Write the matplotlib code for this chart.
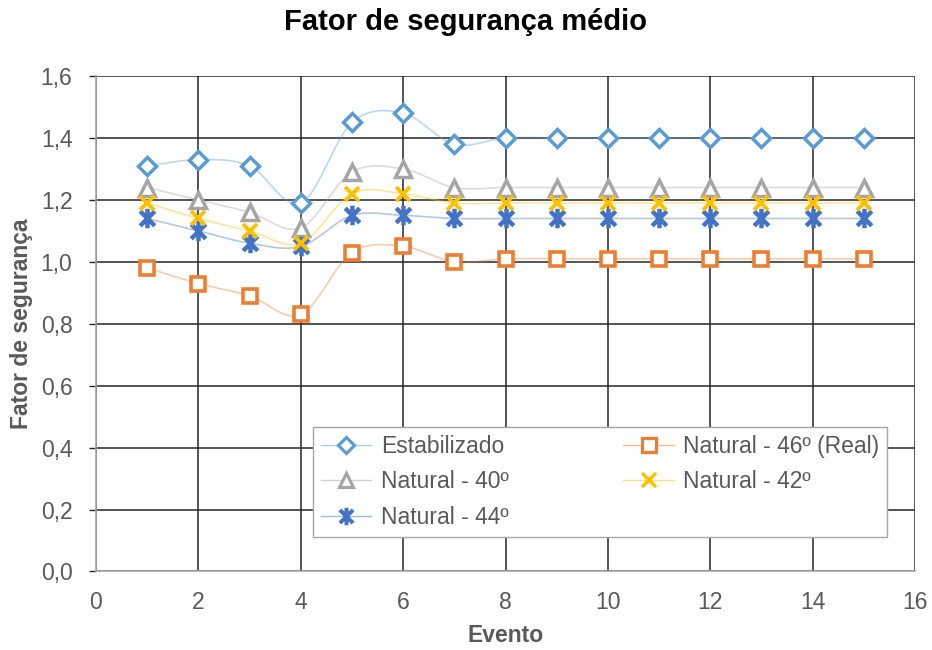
import numpy as np
import matplotlib
matplotlib.use("Agg")
import matplotlib.pyplot as plt
from matplotlib.path import Path
from matplotlib.ticker import MultipleLocator, FuncFormatter

plt.rcParams['font.family'] = ['Liberation Sans', 'DejaVu Sans']

eventos = [1, 2, 3, 4, 5, 6, 7, 8, 9, 10, 11, 12, 13, 14, 15]
estabilizado = [1.31, 1.33, 1.31, 1.19, 1.45, 1.48, 1.38, 1.40, 1.40, 1.40, 1.40, 1.40, 1.40, 1.40, 1.40]
natural_46 = [0.98, 0.93, 0.89, 0.83, 1.03, 1.05, 1.00, 1.01, 1.01, 1.01, 1.01, 1.01, 1.01, 1.01, 1.01]
natural_40 = [1.24, 1.20, 1.16, 1.11, 1.29, 1.30, 1.24, 1.24, 1.24, 1.24, 1.24, 1.24, 1.24, 1.24, 1.24]
natural_42 = [1.19, 1.14, 1.10, 1.06, 1.22, 1.22, 1.19, 1.19, 1.19, 1.19, 1.19, 1.19, 1.19, 1.19, 1.19]
natural_44 = [1.14, 1.10, 1.06, 1.05, 1.15, 1.15, 1.14, 1.14, 1.14, 1.14, 1.14, 1.14, 1.14, 1.14, 1.14]


def smooth(x, y, n=30):
    """Catmull-Rom curve through the points (like a smoothed line)."""
    x = np.asarray(x, float)
    y = np.asarray(y, float)
    px = np.concatenate([[2 * x[0] - x[1]], x, [2 * x[-1] - x[-2]]])
    py = np.concatenate([[2 * y[0] - y[1]], y, [2 * y[-1] - y[-2]]])
    xs, ys = [], []
    t = np.linspace(0, 1, n, endpoint=False)
    for i in range(1, len(px) - 2):
        for arr, out in ((px, xs), (py, ys)):
            p0, p1, p2, p3 = arr[i - 1], arr[i], arr[i + 1], arr[i + 2]
            out.append(0.5 * ((2 * p1) + (-p0 + p2) * t
                              + (2 * p0 - 5 * p1 + 4 * p2 - p3) * t ** 2
                              + (-p0 + 3 * p1 - 3 * p2 + p3) * t ** 3))
    xs = np.concatenate(xs + [[x[-1]]])
    ys = np.concatenate(ys + [[y[-1]]])
    return xs, ys


# asterisk-like marker: an X with a vertical bar
star_path = Path(
    [(-0.75, -0.75), (0.75, 0.75), (-0.75, 0.75), (0.75, -0.75), (0, -1), (0, 1)],
    [Path.MOVETO, Path.LINETO, Path.MOVETO, Path.LINETO, Path.MOVETO, Path.LINETO],
)

series = [
    ("Estabilizado", estabilizado, "#5B9BD5", "D", 9.0, 2.5),
    ("Natural - 40º", natural_40, "#A5A5A5", "^", 11.0, 2.5),
    ("Natural - 44º", natural_44, "#4472C4", star_path, 14.0, 3.2),
    ("Natural - 46º (Real)", natural_46, "#ED7D31", "s", 10.5, 2.6),
    ("Natural - 42º", natural_42, "#FFC000", "x", 10.5, 2.8),
]

fig = plt.figure(figsize=(9.32, 6.5), dpi=100)
ax = fig.add_axes([0.103, 0.1208, 0.8788, 0.7622])

handles = []
for label, vals, color, marker, ms, mew in series:
    filled = isinstance(marker, str) and marker in ("D", "^", "s")
    sx, sy = smooth(eventos, vals)
    ax.plot(sx, sy, color=color, alpha=0.4, lw=1.2, zorder=3)
    ax.plot(eventos, vals, linestyle="none", marker=marker, ms=ms,
            mfc="white" if filled else "none", mec=color, mew=mew, zorder=4)
    h, = ax.plot([], [], color=matplotlib.colors.to_rgba(color, 0.5), lw=1.0,
                 marker=marker, ms=ms * 0.9, mfc="white" if filled else "none",
                 mec=color, mew=mew * 0.9, label=label)
    handles.append(h)

ax.set_xlim(0, 16)
ax.set_ylim(0, 1.6)
ax.xaxis.set_major_locator(MultipleLocator(2))
ax.yaxis.set_major_locator(MultipleLocator(0.2))
ax.yaxis.set_major_formatter(FuncFormatter(lambda v, p: f"{v:.1f}".replace(".", ",")))
ax.grid(True, color="#262626", lw=1.1, zorder=1)
ax.set_axisbelow(True)

for side in ("top", "right"):
    ax.spines[side].set_visible(False)
for side in ("left", "bottom"):
    ax.spines[side].set_color("#A6A6A6")
    ax.spines[side].set_linewidth(1.2)

ax.tick_params(axis="x", length=0, pad=14, labelsize=16.5, labelcolor="#595959")
ax.tick_params(axis="y", length=5, width=1.0, color="#262626", direction="out",
               pad=12, labelsize=16.5, labelcolor="#595959")

fig.text(0.5, 1 - 22 / 650, "Fator de segurança médio", fontsize=21,
         fontweight="bold", color="black", ha="center", va="center")
ax.set_xlabel("Evento", fontsize=16.5, fontweight="bold", color="#595959", labelpad=8)
ax.set_ylabel("Fator de segurança", fontsize=16.5, fontweight="bold", color="#595959",
              labelpad=6)
ax.xaxis.set_label_coords(0.5, -(636 - 571.5) / 495.5)
ax.yaxis.set_label_coords(-(96 - 22) / 819, 0.5)
ax.xaxis.label.set_va("center")
ax.yaxis.label.set_va("center")

leg = ax.legend(handles=handles, ncol=2, loc="lower left",
                bbox_to_anchor=(0.265, 0.0696, 0.701, 0.236), mode="expand",
                fontsize=16.5, frameon=True, fancybox=False, edgecolor="#A6A6A6",
                framealpha=1.0, handlelength=2.2, handletextpad=0.4,
                labelspacing=0.55, borderpad=0.35, columnspacing=0.8,
                borderaxespad=0)
leg.get_frame().set_linewidth(1.0)
for t in leg.get_texts():
    t.set_color("#595959")
leg.set_zorder(10)

fig.savefig("out.png", dpi=100, facecolor="white")
